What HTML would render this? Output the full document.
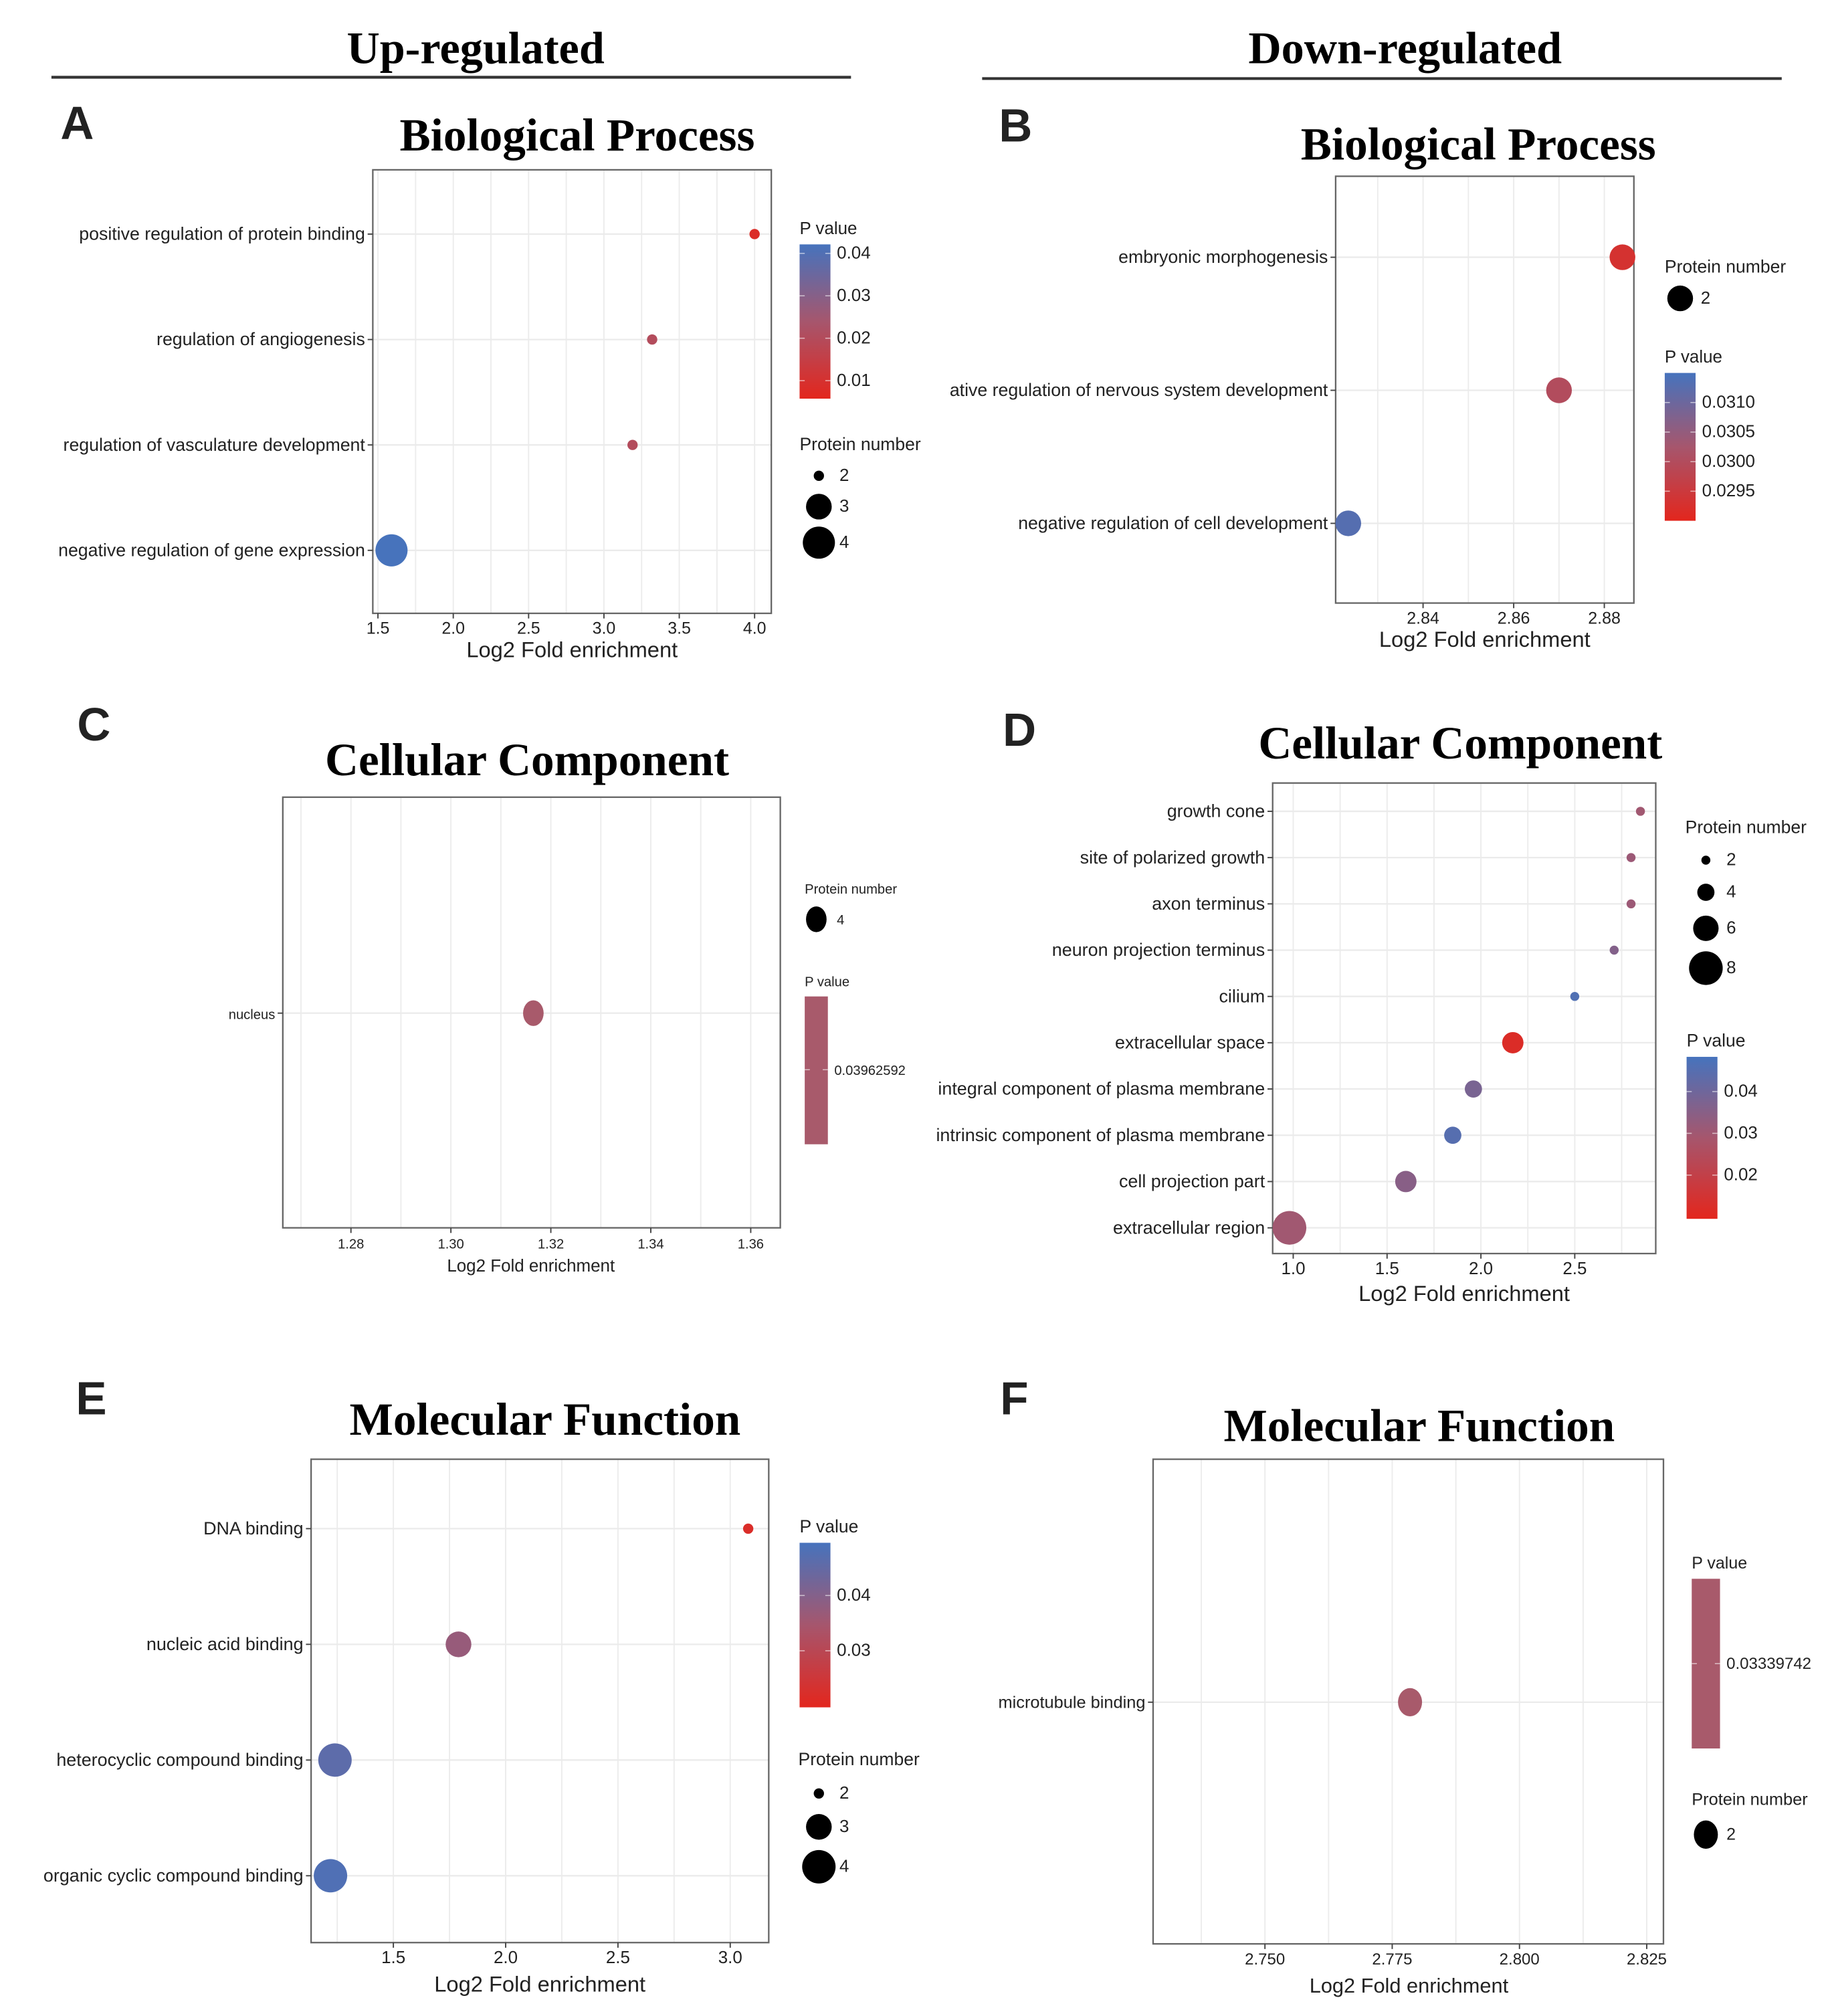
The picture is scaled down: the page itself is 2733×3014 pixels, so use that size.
<!DOCTYPE html>
<html><head><meta charset="utf-8">
<style>
html,body{margin:0;padding:0;background:#fff;}
svg{display:block;}
text{font-family:"Liberation Sans",sans-serif;fill:#222;}
.serif{font-family:"Liberation Serif",serif;font-weight:bold;fill:#000;}
</style></head>
<body>
<svg id="fig" xmlns="http://www.w3.org/2000/svg" width="2733" height="3014" viewBox="0 0 1422 1568">
<rect x="0" y="0" width="1422" height="1568" fill="#fff"/>
<text class="serif" x="370" y="49" font-size="35.5" text-anchor="middle">Up-regulated</text>
<line x1="40" y1="60" x2="662" y2="60" stroke="#333" stroke-width="2.2"/>
<text class="serif" x="1093" y="49" font-size="35.5" text-anchor="middle">Down-regulated</text>
<line x1="764" y1="61" x2="1386" y2="61" stroke="#333" stroke-width="2.2"/>
</svg>
<script>
// ---- Panel A data ----
const aCategories = ["positive regulation of protein binding","regulation of angiogenesis","regulation of vasculature development","negative regulation of gene expression"];
const aEnrich = [4.0, 3.32, 3.19, 1.59];
const aPval = [0.008, 0.02, 0.02, 0.042];
const aCount = [2, 2, 2, 4];
const aTicks = ["1.5","2.0","2.5","3.0","3.5","4.0"];
const aPTicks = ["0.04","0.03","0.02","0.01"];
const aSizeTicks = [2,3,4];
// ---- Panel B data ----
const bCategories = ["embryonic morphogenesis","ative regulation of nervous system development","negative regulation of cell development"];
const bEnrich = [2.884, 2.870, 2.8235];
const bPval = [0.0293, 0.0300, 0.0313];
const bCount = [2, 2, 2];
const bTicks = ["2.84","2.86","2.88"];
const bPTicks = ["0.0310","0.0305","0.0300","0.0295"];
const bSizeTicks = [2];
// ---- Panel C data ----
const cCategories = ["nucleus"];
const cEnrich = [1.3165];
const cPval = [0.03962592];
const cCount = [4];
const cTicks = ["1.28","1.30","1.32","1.34","1.36"];
const cPTicks = ["0.03962592"];
const cSizeTicks = [4];
// ---- Panel D data ----
const dCategories = ["growth cone","site of polarized growth","axon terminus","neuron projection terminus","cilium","extracellular space","integral component of plasma membrane","intrinsic component of plasma membrane","cell projection part","extracellular region"];
const dEnrich = [2.85, 2.80, 2.80, 2.71, 2.50, 2.17, 1.96, 1.85, 1.60, 0.98];
const dPval = [0.030, 0.031, 0.031, 0.036, 0.046, 0.012, 0.038, 0.045, 0.035, 0.030];
const dCount = [2, 2, 2, 2, 2, 5, 4, 4, 5, 8];
const dTicks = ["1.0","1.5","2.0","2.5"];
const dPTicks = ["0.04","0.03","0.02"];
const dSizeTicks = [2,4,6,8];
// ---- Panel E data ----
const eCategories = ["DNA binding","nucleic acid binding","heterocyclic compound binding","organic cyclic compound binding"];
const eEnrich = [3.08, 1.79, 1.24, 1.22];
const ePval = [0.022, 0.037, 0.046, 0.048];
const eCount = [2, 3, 4, 4];
const eTicks = ["1.5","2.0","2.5","3.0"];
const ePTicks = ["0.04","0.03"];
const eSizeTicks = [2,3,4];
// ---- Panel F data ----
const fCategories = ["microtubule binding"];
const fEnrich = [2.7785];
const fPval = [0.03339742];
const fCount = [2];
const fTicks = ["2.750","2.775","2.800","2.825"];
const fPTicks = ["0.03339742"];
const fSizeTicks = [2];

const NS = "http://www.w3.org/2000/svg";
const svg = document.getElementById('fig');
function mk(tag, attrs, parent, txt){
  const e = document.createElementNS(NS, tag);
  for (const k in attrs) e.setAttribute(k, attrs[k]);
  if (txt !== undefined) e.textContent = txt;
  (parent || svg).appendChild(e);
  return e;
}
function lerp(a,b,t){return a+(b-a)*t;}
function hex(c){return [parseInt(c.slice(1,3),16),parseInt(c.slice(3,5),16),parseInt(c.slice(5,7),16)];}
const RED = hex("#e3261d"), MID = hex("#a6566d"), BLUE = hex("#4673bd");
function colorAt(t){
  t = Math.max(0, Math.min(1, t));
  let a, b, u;
  if (t < 0.5){a = RED; b = MID; u = t/0.5;} else {a = MID; b = BLUE; u = (t-0.5)/0.5;}
  return "rgb(" + [0,1,2].map(i=>Math.round(lerp(a[i],b[i],u))).join(",") + ")";
}

function panel(cfg){
  const g = mk('g', {});
  
  
  const f = cfg.frame;
  const xs = v => cfg.x0px + (v - cfg.x0) * cfg.xk;
  const ys = i => cfg.catY[0] + i * cfg.catStep;
  const L = mk('text', {x: cfg.letter[1], y: cfg.letter[2], 'font-size': 36, 'font-weight': 'bold'}, g, cfg.letter[0]);
  
  
  const T = mk('text', {x: cfg.title[1], y: cfg.title[2], 'font-size': 36, 'text-anchor': 'middle', class: 'serif'}, g, cfg.title[0]);
  
  
  mk('rect', {x: f[0], y: f[1], width: f[2]-f[0], height: f[3]-f[1], fill: '#fff'}, g);
  const tv = cfg.ticks.map(Number);
  const step = tv.length > 1 ? tv[1]-tv[0] : 1;
  for (let v = tv[0] - step*2; v <= tv[tv.length-1] + step*2; v += step/2){
    const x = xs(v);
    if (x <= f[0] || x >= f[2]) continue;
    mk('line', {x1: x, x2: x, y1: f[1], y2: f[3], stroke: '#ececec', 'stroke-width': 1}, g);
  }
  cfg.cats.forEach((c,i)=>{
    mk('line', {x1: f[0], x2: f[2], y1: ys(i), y2: ys(i), stroke: '#ebebeb', 'stroke-width': 1.2}, g);
  });
  mk('rect', {x: f[0], y: f[1], width: f[2]-f[0], height: f[3]-f[1], fill: 'none', stroke: '#666', 'stroke-width': 1.2}, g);
  cfg.cats.forEach((c,i)=>{
    mk('line', {x1: f[0]-4, x2: f[0], y1: ys(i), y2: ys(i), stroke: '#444'}, g);
    const t = mk('text', {x: f[0]-6, y: ys(i)+4.5, 'font-size': cfg.fs, 'text-anchor': 'end'}, g, c);
    
    
  });
  cfg.ticks.forEach(s=>{
    const x = xs(Number(s));
    mk('line', {x1: x, x2: x, y1: f[3], y2: f[3]+4, stroke: '#444'}, g);
    const t = mk('text', {x: x, y: f[3]+16, 'font-size': cfg.tfs, 'text-anchor': 'middle'}, g, s);
    
    
  });
  const xt = mk('text', {x: cfg.xTitle[0], y: cfg.xTitle[1], 'font-size': cfg.xtfs, 'text-anchor': 'middle'}, g, 'Log2 Fold enrichment');
  
  
  const cb = cfg.cbar;
  const ps = v => cb.pRef[1] + (v - cb.pRef[0]) * cb.pk;
  const pTop = cb.pRef[0] + (cb.y0 - cb.pRef[1]) / cb.pk;
  const pBot = cb.pRef[0] + (cb.y1 - cb.pRef[1]) / cb.pk;
  const pLo = Math.min(pTop,pBot), pHi = Math.max(pTop,pBot);
  const col = p => cb.single ? cb.single : colorAt((p - pLo)/(pHi - pLo));
  const lt = mk('text', {x: cb.x, y: cb.y0 - 8, 'font-size': cb.lfs}, g, 'P value');
  
  
  const gid = 'grad' + cfg.letter[0];
  const defs = mk('defs', {}, g);
  const lg = mk('linearGradient', {id: gid, x1: 0, y1: 0, x2: 0, y2: 1}, defs);
  for (let k = 0; k <= 10; k++){
    const p = pTop + (pBot - pTop) * k/10;
    mk('stop', {offset: (k*10)+'%', 'stop-color': col(p)}, lg);
  }
  const bar = mk('rect', {x: cb.x, y: cb.y0, width: cb.w, height: cb.y1-cb.y0, fill: 'url(#'+gid+')'}, g);
  
  
  cfg.pticks.forEach(s=>{
    const y = ps(Number(s));
    mk('line', {x1: cb.x, x2: cb.x+4, y1: y, y2: y, stroke: '#fff', 'stroke-width': 0.8, opacity: 0.6}, g);
    mk('line', {x1: cb.x+cb.w-4, x2: cb.x+cb.w, y1: y, y2: y, stroke: '#fff', 'stroke-width': 0.8, opacity: 0.6}, g);
    const t = mk('text', {x: cb.x+cb.w+5, y: y+4, 'font-size': cb.tfs}, g, s);
    
    
  });
  const sl = cfg.slegend;
  const st = mk('text', {x: sl.x, y: sl.y, 'font-size': sl.lfs}, g, 'Protein number');
  
  
  cfg.sizeTicks.forEach((n,i)=>{
    const r = cfg.rad(n);
    const cy = sl.ys[i];
    const d = mk('ellipse', {cx: sl.cx, cy: cy, rx: r*cfg.ex, ry: r, fill: '#000'}, g);
    
    
    const t = mk('text', {x: sl.cx + 16, y: cy+4, 'font-size': sl.tfs}, g, String(n));
    
    
  });
  cfg.vals.forEach((v,i)=>{
    const r = cfg.rad(cfg.count[i]);
    const c = mk('ellipse', {cx: xs(v), cy: ys(i), rx: r*cfg.ex, ry: r, fill: col(cfg.pval[i])}, g);
    
    
  });
}

panel({name:'panel-a-biological-process-up', letter:['A',47,108], title:['Biological Process',449,117],
  frame:[290,132,600,477], x0:1.5, x0px:294, xk:117.2, catY:[182], catStep:82,
  cats:aCategories, vals:aEnrich, pval:aPval, count:aCount, ticks:aTicks, pticks:aPTicks, sizeTicks:aSizeTicks,
  fs:13.9, tfs:13, xtfs:17, xTitle:[445,511], ex:1, rad:n=>({2:4,3:10,4:12.5})[n] || (4+(n-2)*4.3),
  cbar:{x:622,y0:190,y1:310,w:24,pRef:[0.04,197],pk:-3300,lfs:13.5,tfs:13.5},
  slegend:{x:622,y:350,lfs:13.8,tfs:13.5,cx:637,ys:[370,394,422]}});

panel({name:'panel-b-biological-process-down', letter:['B',777,110], title:['Biological Process',1150,124],
  frame:[1039,137,1271,469], x0:2.84, x0px:1107, xk:3525, catY:[200], catStep:103.5,
  cats:bCategories, vals:bEnrich, pval:bPval, count:bCount, ticks:bTicks, pticks:bPTicks, sizeTicks:bSizeTicks,
  fs:13.9, tfs:13, xtfs:17, xTitle:[1155,503], ex:1, rad:n=>10,
  cbar:{x:1295,y0:290,y1:405,w:24,pRef:[0.0310,313],pk:-46000,lfs:13.5,tfs:13.5},
  slegend:{x:1295,y:212,lfs:13.8,tfs:13.5,cx:1307,ys:[232]}});

panel({name:'panel-c-cellular-component-up', letter:['C',60,576], title:['Cellular Component',410,603],
  frame:[220,620,607,955], x0:1.28, x0px:273, xk:3887.5, catY:[788], catStep:1,
  cats:cCategories, vals:cEnrich, pval:cPval, count:cCount, ticks:cTicks, pticks:cPTicks, sizeTicks:cSizeTicks,
  fs:10.5, tfs:10.5, xtfs:13.5, xTitle:[413,989], ex:0.8, rad:n=>10,
  cbar:{x:626,y0:775,y1:890,w:18,pRef:[0.03962592,832],pk:-1,lfs:10.5,tfs:10.5,single:'#a85a6b'},
  slegend:{x:626,y:695,lfs:10.5,tfs:10.5,cx:635,ys:[715]}});

panel({name:'panel-d-cellular-component-down', letter:['D',780,580], title:['Cellular Component',1136,590],
  frame:[990,609,1288,975], x0:1.0, x0px:1006, xk:146, catY:[631], catStep:36,
  cats:dCategories, vals:dEnrich, pval:dPval, count:dCount, ticks:dTicks, pticks:dPTicks, sizeTicks:dSizeTicks,
  fs:14, tfs:13.5, xtfs:17, xTitle:[1139,1012], ex:1, rad:n=>3.5+(n-2)*1.6,
  cbar:{x:1312,y0:822,y1:948,w:24,pRef:[0.04,849],pk:-3250,lfs:13.8,tfs:13.5},
  slegend:{x:1311,y:648,lfs:13.8,tfs:13.5,cx:1327,ys:[669,694,722,753]}});

panel({name:'panel-e-molecular-function-up', letter:['E',59,1100], title:['Molecular Function',424,1116],
  frame:[242,1135,598,1511], x0:1.5, x0px:306, xk:174.7, catY:[1189], catStep:90,
  cats:eCategories, vals:eEnrich, pval:ePval, count:eCount, ticks:eTicks, pticks:ePTicks, sizeTicks:eSizeTicks,
  fs:14, tfs:13.5, xtfs:17, xTitle:[420,1549], ex:1, rad:n=>({2:4,3:10,4:13})[n] || (4+(n-2)*4.5),
  cbar:{x:622,y0:1200,y1:1328,w:24,pRef:[0.04,1241],pk:-4300,lfs:13.8,tfs:13.5},
  slegend:{x:621,y:1373,lfs:13.8,tfs:13.5,cx:637,ys:[1395,1421,1452]}});

panel({name:'panel-f-molecular-function-down', letter:['F',778,1100], title:['Molecular Function',1104,1121],
  frame:[897,1135,1294,1512], x0:2.75, x0px:984, xk:3960, catY:[1324], catStep:1,
  cats:fCategories, vals:fEnrich, pval:fPval, count:fCount, ticks:fTicks, pticks:fPTicks, sizeTicks:fSizeTicks,
  fs:13.2, tfs:12.5, xtfs:16, xTitle:[1096,1550], ex:0.85, rad:n=>11,
  cbar:{x:1316,y0:1228,y1:1360,w:22,pRef:[0.03339742,1294],pk:-1,lfs:13,tfs:12.5,single:'#a85a6b'},
  slegend:{x:1316,y:1404,lfs:13.2,tfs:13,cx:1327,ys:[1427]}});
</script>
</body></html>
